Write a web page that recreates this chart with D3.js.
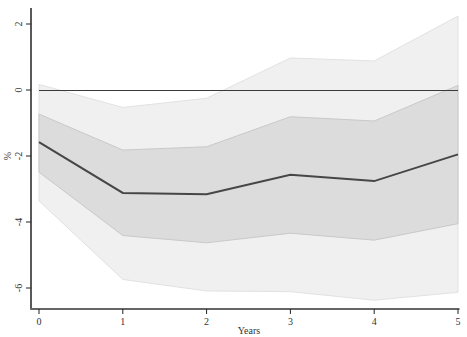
<!DOCTYPE html>
<html><head><meta charset="utf-8">
<script src="https://cdn.jsdelivr.net/npm/d3@7"></script>
<style>body{margin:0;background:#fff}svg{display:block}</style>
</head><body>
<script>
const years = [0, 1, 2, 3, 4, 5];
const estimate = [-1.58, -3.12, -3.16, -2.57, -2.76, -1.95];
const innerUpper = [-0.73, -1.82, -1.72, -0.81, -0.94, 0.14];
const innerLower = [-2.49, -4.41, -4.63, -4.34, -4.55, -4.05];
const outerUpper = [0.17, -0.53, -0.25, 0.97, 0.88, 2.24];
const outerLower = [-3.36, -5.74, -6.09, -6.11, -6.37, -6.13];
const yTicks = [2, 0, -2, -4, -6];
const xTicks = [0, 1, 2, 3, 4, 5];

const W = 467, H = 337;
const svg = d3.select("body").append("svg").attr("width", W).attr("height", H);
const x = d3.scaleLinear().domain([0, 5]).range([39, 458]);
const y = d3.scaleLinear().domain([0, -2]).range([90, 156]);
const font = "'Liberation Serif', 'Times New Roman', serif";

const area = (lo, hi) => d3.area().x((d, i) => x(years[i])).y0((d, i) => y(lo[i])).y1((d, i) => y(hi[i]));
const line = vals => d3.line().x((d, i) => x(years[i])).y((d, i) => y(vals[i]));

svg.append("path").datum(years).attr("d", area(outerLower, outerUpper))
  .attr("fill", "#f0f0f0").attr("stroke", "#e2e2e2").attr("stroke-width", 1);
svg.append("path").datum(years).attr("d", area(innerLower, innerUpper))
  .attr("fill", "#dcdcdd").attr("stroke", "#c9c9c9").attr("stroke-width", 1);

// zero line
svg.append("line").attr("x1", x(0)).attr("x2", x(5)).attr("y1", y(0) + 0.5).attr("y2", y(0) + 0.5)
  .attr("stroke", "#3a3a3a").attr("stroke-width", 1.1);

svg.append("path").datum(years).attr("d", line(estimate))
  .attr("fill", "none").attr("stroke", "#464646").attr("stroke-width", 2);

// y axis
const yAxisG = svg.append("g").attr("transform", "translate(31,0)");
yAxisG.append("line").attr("x1", 0).attr("x2", 0).attr("y1", 8).attr("y2", 309.5)
  .attr("stroke", "#222").attr("stroke-width", 1.5);
yAxisG.selectAll("line.t").data(yTicks).join("line").attr("class", "t")
  .attr("x1", -5).attr("x2", 0).attr("y1", d => y(d)).attr("y2", d => y(d))
  .attr("stroke", "#222").attr("stroke-width", 1);
yAxisG.selectAll("text").data(yTicks).join("text")
  .attr("transform", d => `translate(-9,${y(d)}) rotate(-90)`)
  .attr("text-anchor", "middle").attr("font-family", font).attr("font-size", 10)
  .attr("fill", "#333").text(d => d);

// x axis
const xAxisG = svg.append("g").attr("transform", "translate(0,309)");
xAxisG.append("line").attr("x1", 30.5).attr("x2", 459.5).attr("y1", 0).attr("y2", 0)
  .attr("stroke", "#666").attr("stroke-width", 1.8);
xAxisG.selectAll("line.t").data(xTicks).join("line").attr("class", "t")
  .attr("x1", d => x(d)).attr("x2", d => x(d)).attr("y1", 0).attr("y2", 5)
  .attr("stroke", "#222").attr("stroke-width", 1);
xAxisG.selectAll("text").data(xTicks).join("text")
  .attr("x", d => x(d)).attr("y", 16).attr("text-anchor", "middle")
  .attr("font-family", font).attr("font-size", 10).attr("fill", "#333").text(d => d);

svg.append("text").attr("x", 249).attr("y", 334).attr("text-anchor", "middle")
  .attr("font-family", font).attr("font-size", 10).attr("fill", "#333").text("Years");
svg.append("text").attr("transform", "translate(11,156) rotate(-90)").attr("text-anchor", "middle")
  .attr("font-family", font).attr("font-size", 10).attr("fill", "#333").text("%");
</script>
</body></html>
